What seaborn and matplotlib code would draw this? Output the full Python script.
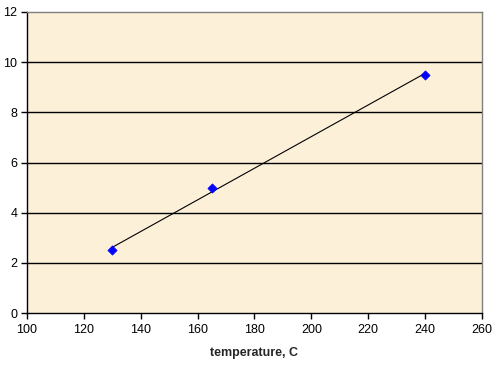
import numpy as np
import pandas as pd
import matplotlib
matplotlib.use("Agg")
import matplotlib.pyplot as plt
import seaborn as sns

temperature = [130, 165, 240]
values = [2.5, 5.0, 9.5]
x_ticks = [100, 120, 140, 160, 180, 200, 220, 240, 260]
y_ticks = [0, 2, 4, 6, 8, 10, 12]

df = pd.DataFrame({"temperature": temperature, "value": values})

sns.set_style("white")
plt.rcParams["font.family"] = ["Liberation Sans", "DejaVu Sans"]

fig = plt.figure(figsize=(4.97, 3.82), dpi=100)
ax = fig.add_axes([0.0543, 0.1806, 0.9155, 0.788])
ax.set_facecolor("#FCF0D9")

# linear trendline over the data range
k, b = np.polyfit(df["temperature"], df["value"], 1)
xs = np.array([df["temperature"].min(), df["temperature"].max()])
ax.plot(xs, k * xs + b, color="black", linewidth=0.8, zorder=2)

sns.scatterplot(data=df, x="temperature", y="value", marker="D", s=22,
                color="#0000FF", edgecolor="#0000FF", linewidth=0.5, ax=ax, zorder=3)

ax.set_xlim(100, 260)
ax.set_ylim(0, 12)
ax.set_xticks(x_ticks)
ax.set_yticks(y_ticks)
for y in y_ticks[1:-1]:
    ax.axhline(y, color="black", linewidth=1, zorder=1)

ax.tick_params(axis="both", direction="out", length=4, width=1, colors="black",
               labelsize=9, bottom=True, left=True)
ax.tick_params(axis="x", pad=4)
ax.tick_params(axis="y", pad=3)
ax.set_xlabel("temperature, C", fontsize=9, fontweight="bold", labelpad=8)
ax.set_ylabel("")

for side in ["left", "bottom"]:
    ax.spines[side].set_color("black")
    ax.spines[side].set_linewidth(1)
for side in ["top", "right"]:
    ax.spines[side].set_color("#808080")
    ax.spines[side].set_linewidth(1)

fig.savefig("out.png", dpi=100, facecolor="white")
